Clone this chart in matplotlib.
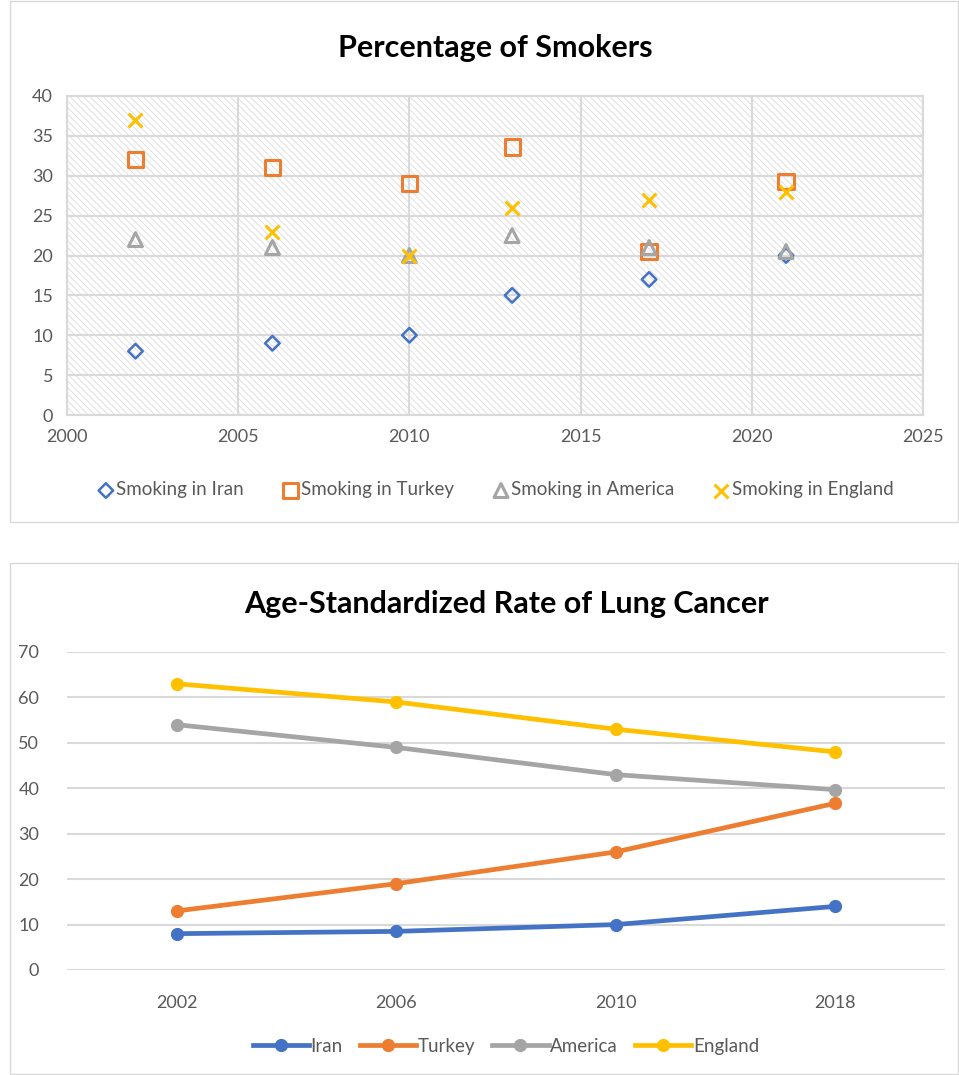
import matplotlib
matplotlib.use("Agg")
import matplotlib.pyplot as plt
from matplotlib.patches import Rectangle

plt.rcParams['font.family'] = ['Lato', 'DejaVu Sans']
plt.rcParams['hatch.linewidth'] = 0.6
plt.rcParams['hatch.color'] = '#dcdcdc'

# Percentage of smokers (scatter)
smoke_years = [2002, 2006, 2010, 2013, 2017, 2021]
smoke_iran = [8, 9, 10, 15, 17, 20]
smoke_turkey = [32, 31, 29, 33.6, 20.5, 29.3]
smoke_america = [22, 21, 20, 22.5, 21, 20.5]
smoke_england = [37, 23, 20, 26, 27, 28]

# Age-standardized rate of lung cancer (lines)
cancer_years = ['2002', '2006', '2010', '2018']
cancer_iran = [8, 8.5, 10, 14]
cancer_turkey = [13, 19, 26, 36.7]
cancer_america = [54, 49, 43, 39.7]
cancer_england = [63, 59, 53, 48]

BLUE = '#4472C4'
ORANGE = '#ED7D31'
GRAY = '#A5A5A5'
GOLD = '#FFC000'
TXT = '#595959'
GRID = '#d9d9d9'

W, H = 959, 1075
fig = plt.figure(figsize=(W / 100, H / 100), dpi=100)

# panel borders
fig.patches.append(Rectangle((10 / W, 1 - 522 / H), 948 / W, 521 / H,
                             transform=fig.transFigure, fill=False,
                             edgecolor='#d9d9d9', linewidth=1))
fig.patches.append(Rectangle((10 / W, 1 - 1074 / H), 948 / W, 511 / H,
                             transform=fig.transFigure, fill=False,
                             edgecolor='#d9d9d9', linewidth=1))

# ---- top chart ----
ax1 = fig.add_axes([67 / W, 1 - 415 / H, 856 / W, 319 / H])
ax1.add_patch(Rectangle((0, 0), 1, 1, transform=ax1.transAxes,
                        facecolor='white', hatch='\\\\\\\\\\',
                        edgecolor='#dcdcdc', linewidth=0, zorder=0))
ax1.scatter(smoke_years, smoke_iran, marker='D', s=55, facecolors='none',
            edgecolors=BLUE, linewidths=1.8, label='Smoking in Iran', zorder=3)
ax1.scatter(smoke_years, smoke_turkey, marker='s', s=120, facecolors='none',
            edgecolors=ORANGE, linewidths=2.2, label='Smoking in Turkey', zorder=3)
ax1.scatter(smoke_years, smoke_america, marker='^', s=100, facecolors='none',
            edgecolors=GRAY, linewidths=2.2, label='Smoking in America', zorder=3)
ax1.scatter(smoke_years, smoke_england, marker='x', s=100,
            color=GOLD, linewidths=2.2, label='Smoking in England', zorder=3)
ax1.set_xlim(2000, 2025)
ax1.set_ylim(0, 40)
ax1.set_xticks(range(2000, 2026, 5))
ax1.set_yticks(range(0, 41, 5))
ax1.grid(True, color=GRID, linewidth=1.5, zorder=1)
ax1.set_axisbelow(True)
for s in ax1.spines.values():
    s.set_color(GRID)
    s.set_linewidth(1.5)
ax1.tick_params(length=0, labelsize=13, colors=TXT, pad=10)
ax1.set_title('Percentage of Smokers', fontsize=22, fontweight='bold', pad=28)
ax1.legend(loc='center', bbox_to_anchor=(0.5, -0.235), ncol=4, frameon=False,
           fontsize=13.5, handletextpad=0.05, columnspacing=2.0,
           labelcolor=TXT, handlelength=1)

# ---- bottom chart ----
ax2 = fig.add_axes([67 / W, 1 - 970 / H, 878 / W, 318 / H])
x = range(len(cancer_years))
for vals, c, name in [(cancer_iran, BLUE, 'Iran'), (cancer_turkey, ORANGE, 'Turkey'),
                      (cancer_america, GRAY, 'America'), (cancer_england, GOLD, 'England')]:
    ax2.plot(x, vals, color=c, linewidth=3.4, marker='o', markersize=8.5,
             label=name, zorder=3)
ax2.set_xlim(-0.5, 3.5)
ax2.set_ylim(0, 70)
ax2.set_xticks(list(x))
ax2.set_xticklabels(cancer_years)
ax2.set_yticks(range(0, 71, 10))
ax2.grid(True, axis='y', color=GRID, linewidth=1.5)
ax2.set_axisbelow(True)
for s in ax2.spines.values():
    s.set_visible(False)
ax2.tick_params(length=0, labelsize=13, colors=TXT)
ax2.tick_params(axis='x', pad=18)
ax2.tick_params(axis='y', pad=20)
ax2.set_title('Age-Standardized Rate of Lung Cancer', fontsize=22,
              fontweight='bold', pad=28)
ax2.legend(loc='center', bbox_to_anchor=(0.5, -0.24), ncol=4, frameon=False,
           fontsize=13.5, handletextpad=0.1, columnspacing=0.9,
           labelcolor=TXT, handlelength=3.0)

fig.savefig('out.png', dpi=100)
